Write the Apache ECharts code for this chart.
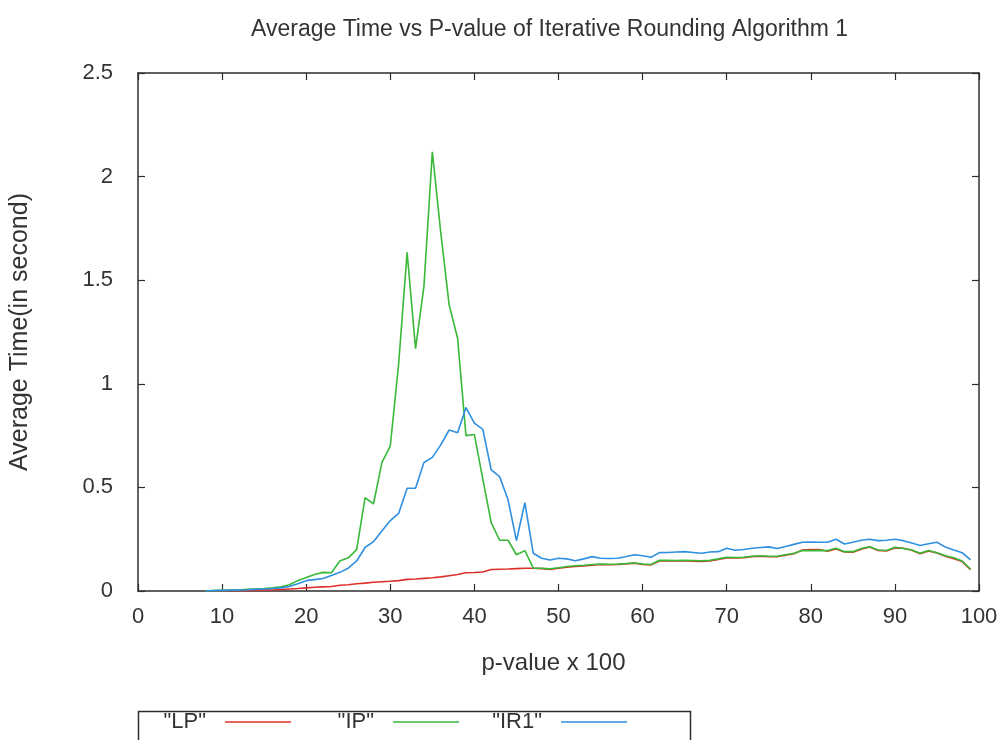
<!DOCTYPE html>
<html>
<head>
<meta charset="utf-8">
<script src="https://cdn.jsdelivr.net/npm/echarts@6/dist/echarts.min.js"></script>
<style>
  html, body { margin: 0; padding: 0; background: #fff; }
  #chart { width: 1001px; height: 740px; }
</style>
</head>
<body>
<div id="chart"></div>
<script>
// p-value x 100, sampled at every integer from 8 to 99
const pValues = [];
for (let p = 8; p <= 99; p++) pValues.push(p);

// Average solve time (seconds) of the LP relaxation
const lpTime = [
  0, 0, 0.001, 0.001, 0.002, 0.002, 0.003, 0.004, 0.005, 0.007,
  0.01, 0.012, 0.015, 0.018, 0.02, 0.022, 0.028, 0.03, 0.035, 0.038,
  0.042, 0.045, 0.047, 0.05, 0.056, 0.058, 0.061, 0.064, 0.068, 0.074,
  0.08, 0.088, 0.089, 0.092, 0.104, 0.105, 0.106, 0.108, 0.11, 0.11,
  0.108, 0.104, 0.11, 0.115, 0.118, 0.121, 0.125, 0.128, 0.127, 0.128,
  0.13, 0.134, 0.128, 0.126, 0.145, 0.146, 0.145, 0.146, 0.144, 0.143,
  0.145, 0.152, 0.16, 0.16, 0.161, 0.166, 0.168, 0.166, 0.165, 0.173,
  0.18, 0.198, 0.2, 0.2, 0.192, 0.203, 0.188, 0.187, 0.202, 0.212,
  0.196, 0.193, 0.208, 0.206, 0.197, 0.18, 0.193, 0.183, 0.168, 0.156,
  0.142, 0.103
];

// Average solve time (seconds) of the integer program
const ipTime = [
  0, 0.002, 0.003, 0.004, 0.005, 0.008, 0.01, 0.012, 0.015, 0.02,
  0.03, 0.05, 0.065, 0.08, 0.09, 0.088, 0.145, 0.16, 0.2, 0.45,
  0.42, 0.62, 0.7, 1.1, 1.635, 1.17, 1.47, 2.12, 1.73, 1.38,
  1.22, 0.75, 0.755, 0.54, 0.33, 0.245, 0.245, 0.175, 0.195, 0.11,
  0.11, 0.107, 0.112, 0.118, 0.122, 0.124, 0.128, 0.13, 0.129, 0.13,
  0.132, 0.136, 0.13, 0.128, 0.148, 0.148, 0.147, 0.148, 0.147, 0.146,
  0.148, 0.155, 0.163, 0.162, 0.163, 0.168, 0.17, 0.168, 0.168, 0.175,
  0.182, 0.195, 0.195, 0.196, 0.195, 0.206, 0.19, 0.19, 0.205, 0.214,
  0.198, 0.196, 0.211, 0.205, 0.198, 0.182, 0.195, 0.185, 0.17, 0.16,
  0.145, 0.105
];

// Average solve time (seconds) of Iterative Rounding Algorithm 1
const ir1Time = [
  0, 0.002, 0.003, 0.004, 0.005, 0.006, 0.008, 0.01, 0.012, 0.015,
  0.022, 0.035, 0.05, 0.055, 0.06, 0.075, 0.09, 0.11, 0.145, 0.21,
  0.238, 0.29, 0.34, 0.375, 0.496, 0.496, 0.62, 0.645, 0.705, 0.777,
  0.764, 0.885, 0.81, 0.78, 0.584, 0.552, 0.44, 0.243, 0.426, 0.182,
  0.158, 0.15, 0.158, 0.155, 0.146, 0.155, 0.166, 0.158, 0.157, 0.158,
  0.165, 0.175, 0.17, 0.163, 0.185, 0.186, 0.188, 0.19, 0.186, 0.182,
  0.188, 0.19, 0.206, 0.197, 0.2, 0.206, 0.21, 0.213, 0.205, 0.215,
  0.225, 0.235, 0.236, 0.235, 0.235, 0.25, 0.227, 0.235, 0.245, 0.25,
  0.243, 0.245, 0.25, 0.243, 0.232, 0.22, 0.228, 0.235, 0.212, 0.198,
  0.185, 0.15
];

const seriesNames = ['"LP"', '"IP"', '"IR1"'];
const seriesColors = ['#dd3029', '#38b938', '#2f8fe0'];
const seriesValues = [lpTime, ipTime, ir1Time];

const FONT = 'Liberation Sans, Arial, sans-serif';
const INK = '#333333';
const FRAME = '#2e2e2e';

const chart = echarts.init(document.getElementById('chart'), null, { renderer: 'canvas' });

const pairs = vals => pValues.map((p, i) => [p, vals[i]]);

const baseX = {
  type: 'value', min: 0, max: 100, interval: 10,
  splitLine: { show: false },
  axisLine: { show: true, onZero: false, lineStyle: { color: FRAME, width: 1.5 } },
  axisTick: { show: true, inside: true, length: 7, lineStyle: { color: FRAME, width: 1.2 } }
};
const baseY = {
  type: 'value', min: 0, max: 2.5, interval: 0.5,
  splitLine: { show: false },
  axisLine: { show: true, onZero: false, lineStyle: { color: FRAME, width: 1.5 } },
  axisTick: { show: true, inside: true, length: 7, lineStyle: { color: FRAME, width: 1.2 } }
};

// one legend box per item so each key sits in its own fixed-width column
const legendRights = [1001 - 291, 1001 - 459, 1001 - 627];
const legends = seriesNames.map((name, i) => ({
  data: [name],
  right: legendRights[i],
  top: 711,
  orient: 'horizontal',
  align: 'right',
  icon: 'rect',
  itemWidth: 66,
  itemHeight: 1.6,
  padding: 0,
  itemStyle: { color: seriesColors[i] },
  textStyle: { fontFamily: FONT, fontSize: 22, color: INK, padding: [0, 14, 0, 0] },
  selectedMode: false
}));

chart.setOption({
  backgroundColor: '#ffffff',
  animation: false,
  title: {
    text: 'Average Time vs P-value of Iterative Rounding Algorithm 1',
    left: 246,
    top: 13,
    textStyle: { fontFamily: FONT, fontSize: 23, fontWeight: 'normal', color: INK }
  },
  grid: { left: 138, right: 22, top: 73, bottom: 149, containLabel: false },
  legend: legends,
  graphic: [{
    type: 'rect',
    shape: { x: 138.5, y: 711.5, width: 552, height: 60 },
    style: { fill: 'none', stroke: FRAME, lineWidth: 1.5 },
    silent: true
  }],
  xAxis: [
    Object.assign({}, baseX, {
      position: 'bottom',
      name: 'p-value x 100',
      nameLocation: 'middle',
      nameGap: 60,
      nameTextStyle: { fontFamily: FONT, fontSize: 24, color: INK, padding: [0, 10, 0, 0] },
      axisLabel: { fontFamily: FONT, fontSize: 22, color: INK, margin: 15 }
    }),
    Object.assign({}, baseX, { position: 'top', axisLabel: { show: false } })
  ],
  yAxis: [
    Object.assign({}, baseY, {
      position: 'left',
      name: 'Average Time(in second)',
      nameLocation: 'middle',
      nameGap: 105,
      nameRotate: 90,
      nameTextStyle: { fontFamily: FONT, fontSize: 25, color: INK },
      axisLabel: { fontFamily: FONT, fontSize: 22, color: INK, margin: 25 }
    }),
    Object.assign({}, baseY, { position: 'right', axisLabel: { show: false } })
  ],
  series: seriesNames.map((name, i) => ({
    name: name,
    type: 'line',
    xAxisIndex: 0,
    yAxisIndex: 0,
    data: pairs(seriesValues[i]),
    showSymbol: false,
    symbol: 'none',
    color: seriesColors[i],
    lineStyle: { color: seriesColors[i], width: 1.6 },
    z: 2 + i
  }))
});
</script>
</body>
</html>
